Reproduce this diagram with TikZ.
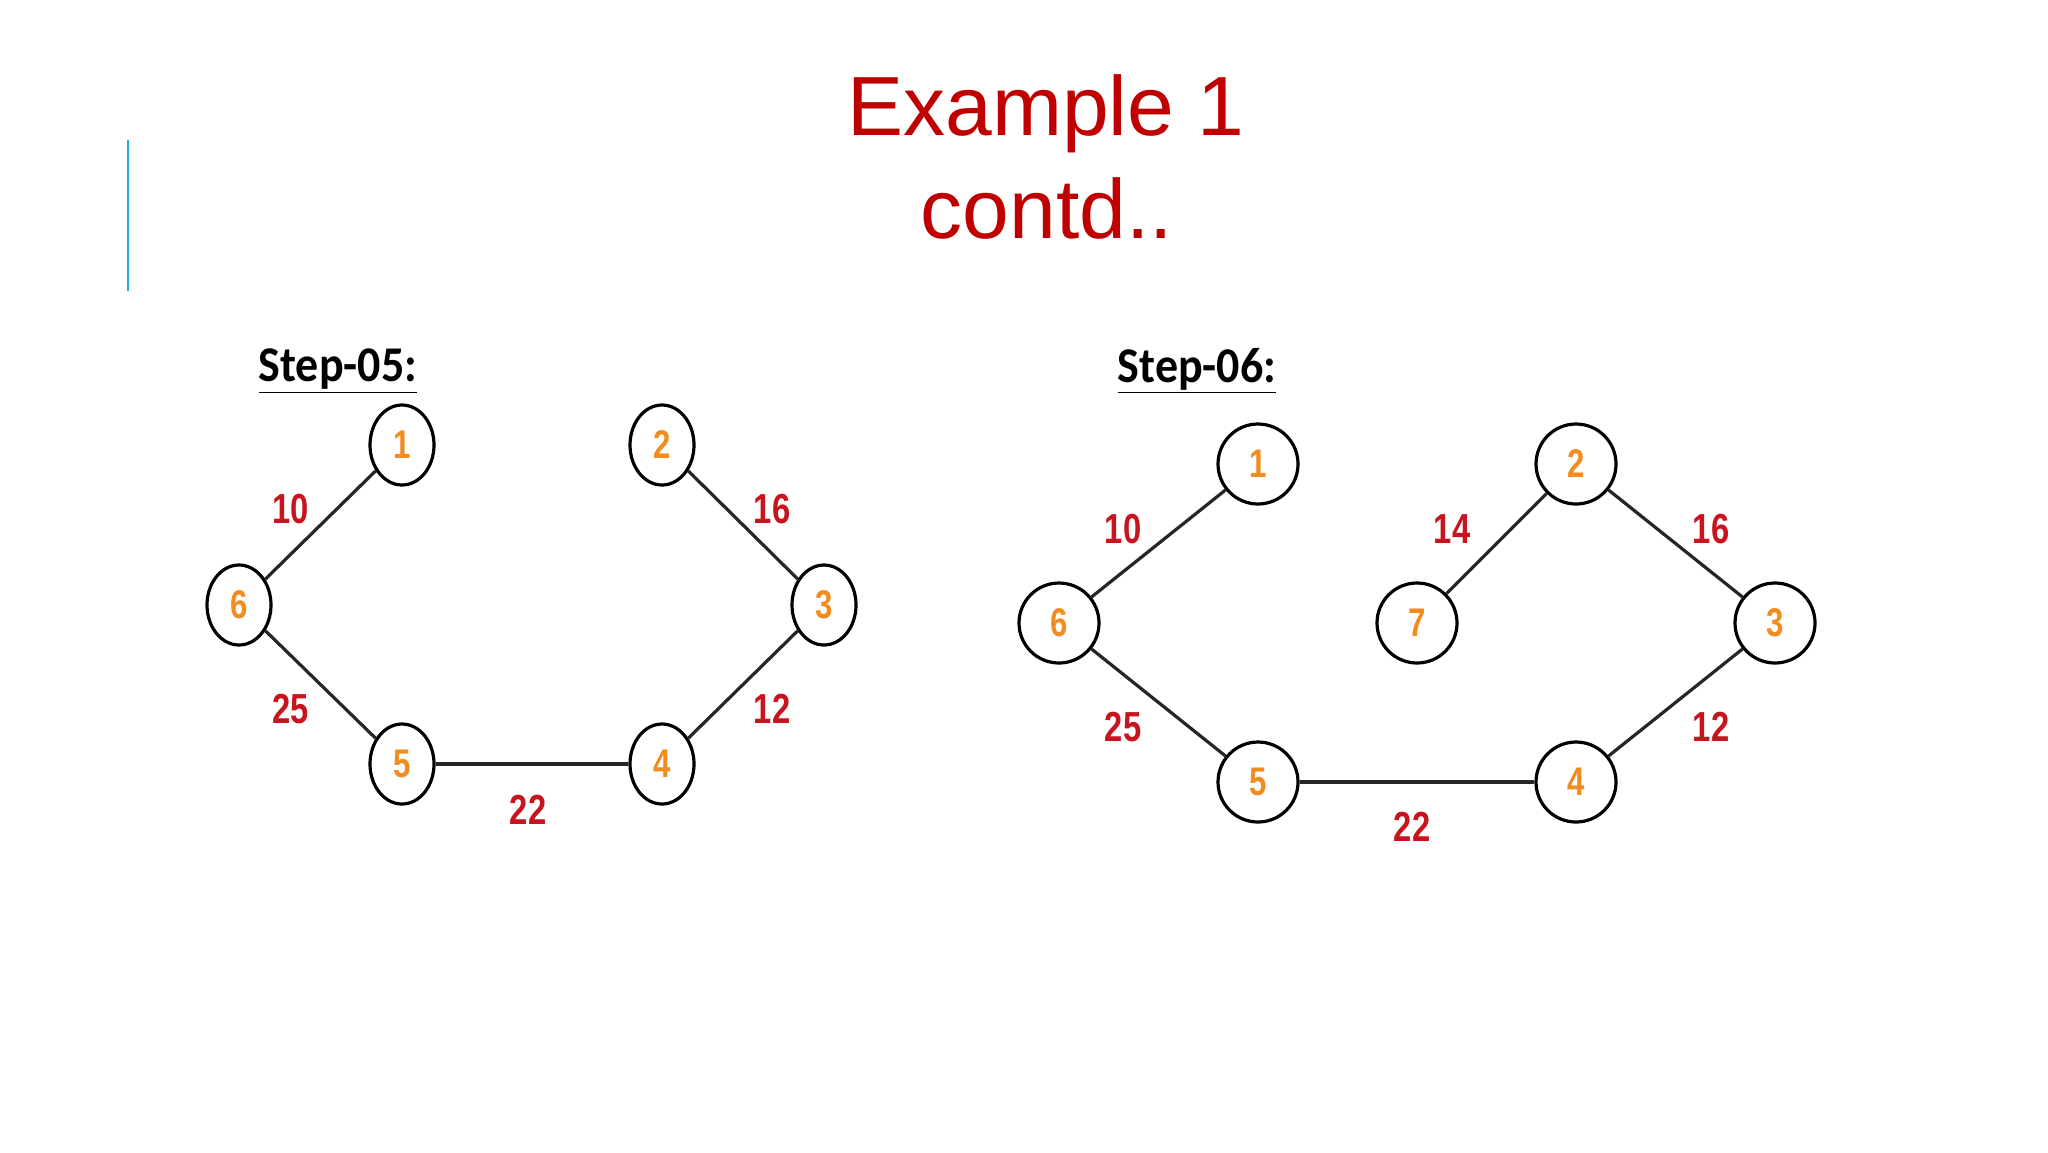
\documentclass[tikz,border=0pt]{standalone}
\usepackage{fontspec}
\setmainfont{Liberation Sans}
\newfontfamily\titlefont{Liberation Sans}
\newfontfamily\numfont[FakeStretch=0.78]{Liberation Sans}
\newfontfamily\stepfont[FakeStretch=0.92]{Carlito}
\usetikzlibrary{shapes.geometric}
\definecolor{titlered}{RGB}{192,0,0}
\definecolor{labred}{RGB}{200,20,30}
\definecolor{nodeorange}{RGB}{242,140,30}
\definecolor{barblue}{RGB}{40,170,230}
\tikzset{
  ellnode/.style={ellipse,draw=black,line width=1.6pt,fill=white,minimum width=32pt,minimum height=40pt,inner sep=0pt,
    font=\numfont\bfseries\fontsize{20}{20}\selectfont,text=nodeorange},
  circnode/.style={circle,draw=black,line width=1.6pt,fill=white,minimum size=40pt,inner sep=0pt,
    font=\numfont\bfseries\fontsize{20}{20}\selectfont,text=nodeorange},
  edge/.style={line width=1.6pt,draw=black!85},
  wlabel/.style={font=\numfont\bfseries\fontsize{21}{21}\selectfont,text=labred,inner sep=0pt},
  steplabel/.style={font=\stepfont\bfseries\fontsize{25}{25}\selectfont,text=black,inner sep=0pt},
  titletext/.style={font=\titlefont\fontsize{42}{42}\selectfont,text=titlered,inner sep=0pt,anchor=base}
}
\begin{document}
\begin{tikzpicture}[x=0.5pt,y=-0.5pt]
\fill[white] (0,0) rectangle (2048,1152);
\useasboundingbox (0,0) rectangle (2048,1152);
% blue bar
\coordinate (bartop) at (128,140);
\coordinate (barbot) at (128,291);
\draw[barblue,line width=1.3pt] (bartop) -- (barbot);
% title
\node[titletext] (t1) at (1046,135) {Example 1};
\node[titletext] (t2) at (1047,238) {contd..};
% ---- Step-05 ----
\node[steplabel] (s5) at (338,371) {\underline{Step-05:}};
\node[ellnode] (a1) at (402,445) {1};
\node[ellnode] (a2) at (662,445) {2};
\node[ellnode] (a6) at (239,605) {6};
\node[ellnode] (a3) at (824,605) {3};
\node[ellnode] (a5) at (402,764) {5};
\node[ellnode] (a4) at (662,764) {4};
\draw[edge] (a1) -- (a6);
\draw[edge] (a6) -- (a5);
\draw[edge] (a5) -- (a4);
\draw[edge] (a4) -- (a3);
\draw[edge] (a3) -- (a2);
\node[wlabel] (la10) at (291,509) {10};
\node[wlabel] (la16) at (772,509) {16};
\node[wlabel] (la25) at (291,709) {25};
\node[wlabel] (la12) at (772,709) {12};
\node[wlabel] (la22) at (528,810) {22};
% ---- Step-06 ----
\node[steplabel] (s6) at (1197,371) {\underline{Step-06:}};
\node[circnode] (b1) at (1258,464) {1};
\node[circnode] (b2) at (1576,464) {2};
\node[circnode] (b6) at (1059,623) {6};
\node[circnode] (b7) at (1417,623) {7};
\node[circnode] (b3) at (1775,623) {3};
\node[circnode] (b5) at (1258,782) {5};
\node[circnode] (b4) at (1576,782) {4};
\draw[edge] (b1) -- (b6);
\draw[edge] (b6) -- (b5);
\draw[edge] (b5) -- (b4);
\draw[edge] (b4) -- (b3);
\draw[edge] (b3) -- (b2);
\draw[edge] (b2) -- (b7);
\node[wlabel] (lb10) at (1123,529) {10};
\node[wlabel] (lb14) at (1452,529) {14};
\node[wlabel] (lb16) at (1711,529) {16};
\node[wlabel] (lb25) at (1123,727) {25};
\node[wlabel] (lb12) at (1711,727) {12};
\node[wlabel] (lb22) at (1412,827) {22};
\end{tikzpicture}
\end{document}
